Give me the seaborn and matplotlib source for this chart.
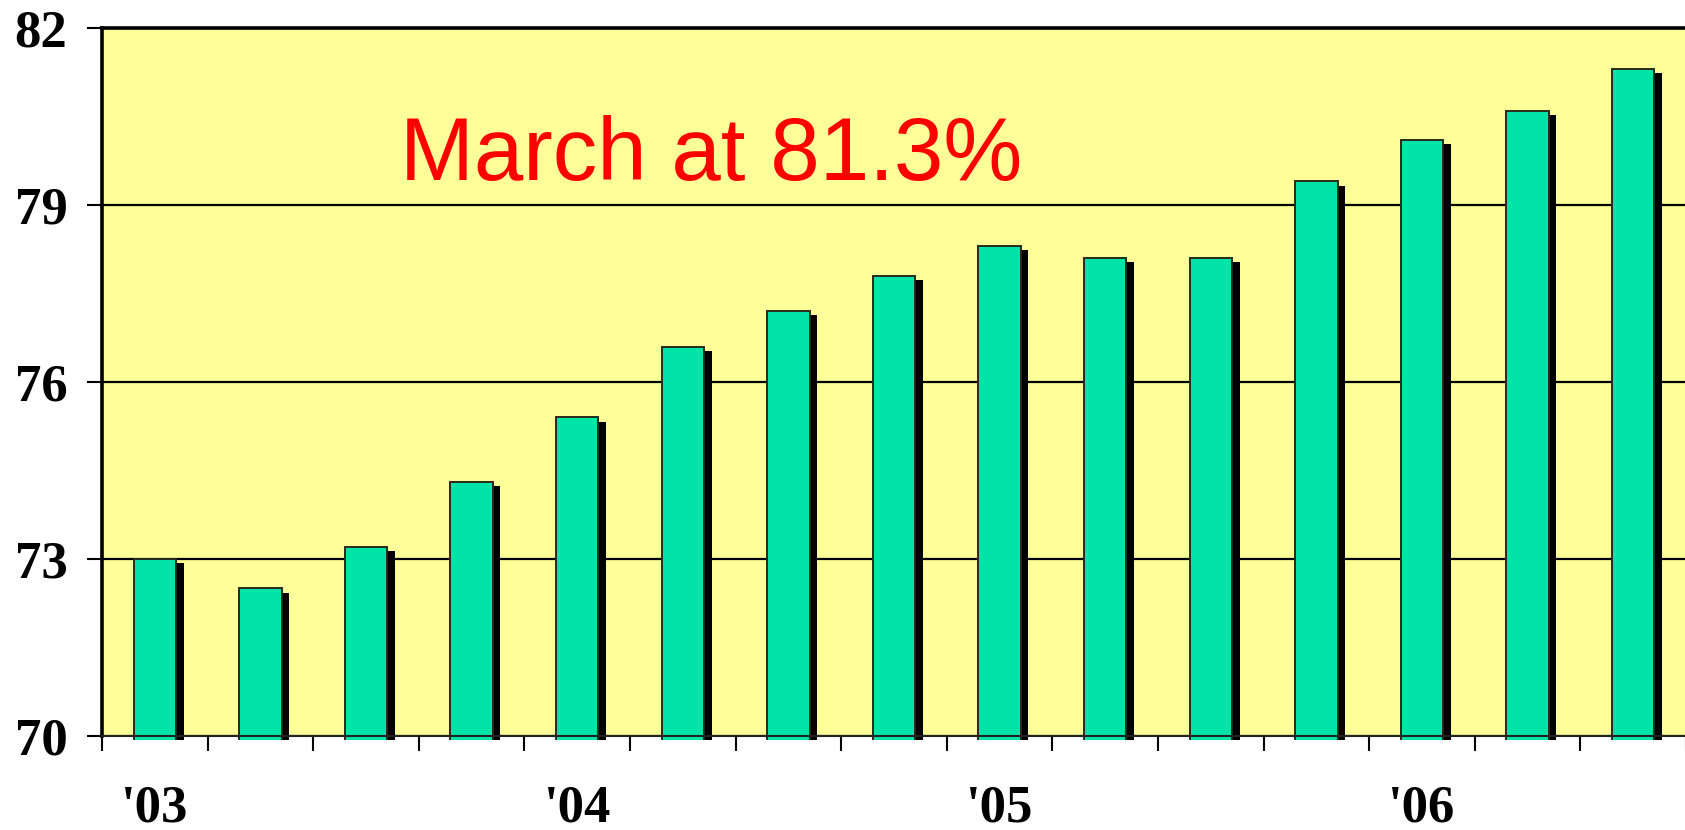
import numpy as np
import pandas as pd
import matplotlib
matplotlib.use("Agg")
import matplotlib.pyplot as plt
import matplotlib.patheffects as pe
from matplotlib.transforms import Bbox, TransformedBbox
import seaborn as sns

# quarterly readings (%)
periods = [f"P{i}" for i in range(1, 16)]
values = [73.0, 72.5, 73.2, 74.3, 75.4, 76.6, 77.2, 77.8,
          78.3, 78.1, 78.1, 79.4, 80.1, 80.6, 81.3]
year_labels = ["'03", "'04", "'05", "'06"]
year_pos = [0, 4, 8, 12]
y_ticks = [70, 73, 76, 79, 82]
note = "March at 81.3%"

bar_color = "#00E4A8"
bg_color = "#FFFF99"

df = pd.DataFrame({"period": periods, "value": values})

sns.set_style("white")
plt.rcParams["font.family"] = ["Liberation Serif", "DejaVu Serif"]

fig = plt.figure(figsize=(16.85, 8.30), dpi=100)
ax = fig.add_axes([102 / 1685, 94 / 830, 1584 / 1685, 708 / 830])
ax.set_facecolor(bg_color)

sns.barplot(data=df, x="period", y="value", color=bar_color, width=0.4,
            edgecolor="#2a2a1a", linewidth=1.4, saturation=1, ax=ax)

# drop shadow, like the old office charts
clip = TransformedBbox(Bbox([[-0.5, 69.93], [14.5, 82.2]]), ax.transData)
for p in ax.patches:
    p.set_path_effects([pe.SimplePatchShadow(offset=(5.5, -3.0), shadow_rgbFace="black", alpha=1.0),
                        pe.Normal()])
    p.set_clip_box(clip)

ax.set_xlim(-0.5, 14.5)
ax.set_ylim(70, 82)
ax.set_yticks(y_ticks)
ax.set_yticklabels([str(t) for t in y_ticks])
ax.yaxis.grid(True, color="black", linewidth=1.6)
ax.set_axisbelow(True)

# boundaries get tick marks, years sit under the bars
ax.set_xticks(np.arange(-0.5, 15, 1.0))
ax.set_xticklabels([])
ax.set_xticks(year_pos, minor=True)
ax.set_xticklabels(year_labels, minor=True)
ax.tick_params(axis="x", which="major", direction="out", length=11, width=1.5, color="black", bottom=True)
ax.tick_params(axis="x", which="minor", length=0, pad=35, labelsize=38, labelcolor="black")
ax.tick_params(axis="y", direction="out", length=11, width=1.5, color="black", left=True, pad=14,
               labelsize=38, labelcolor="black")
for lab in ax.get_xticklabels(minor=True) + ax.get_yticklabels():
    lab.set_fontweight("bold")

ax.set_xlabel("")
ax.set_ylabel("")

for side in ["left", "top"]:
    ax.spines[side].set_visible(True)
    ax.spines[side].set_color("black")
    ax.spines[side].set_linewidth(2.6)
ax.spines["bottom"].set_color("#222222")
ax.spines["bottom"].set_linewidth(1.5)
ax.spines["right"].set_visible(False)

fig.text(711 / 1685, (830 - 180) / 830, note, color="red", fontsize=64,
         family=["Liberation Sans", "DejaVu Sans"], ha="center", va="baseline")

fig.savefig("out.png", dpi=100, facecolor="white")
